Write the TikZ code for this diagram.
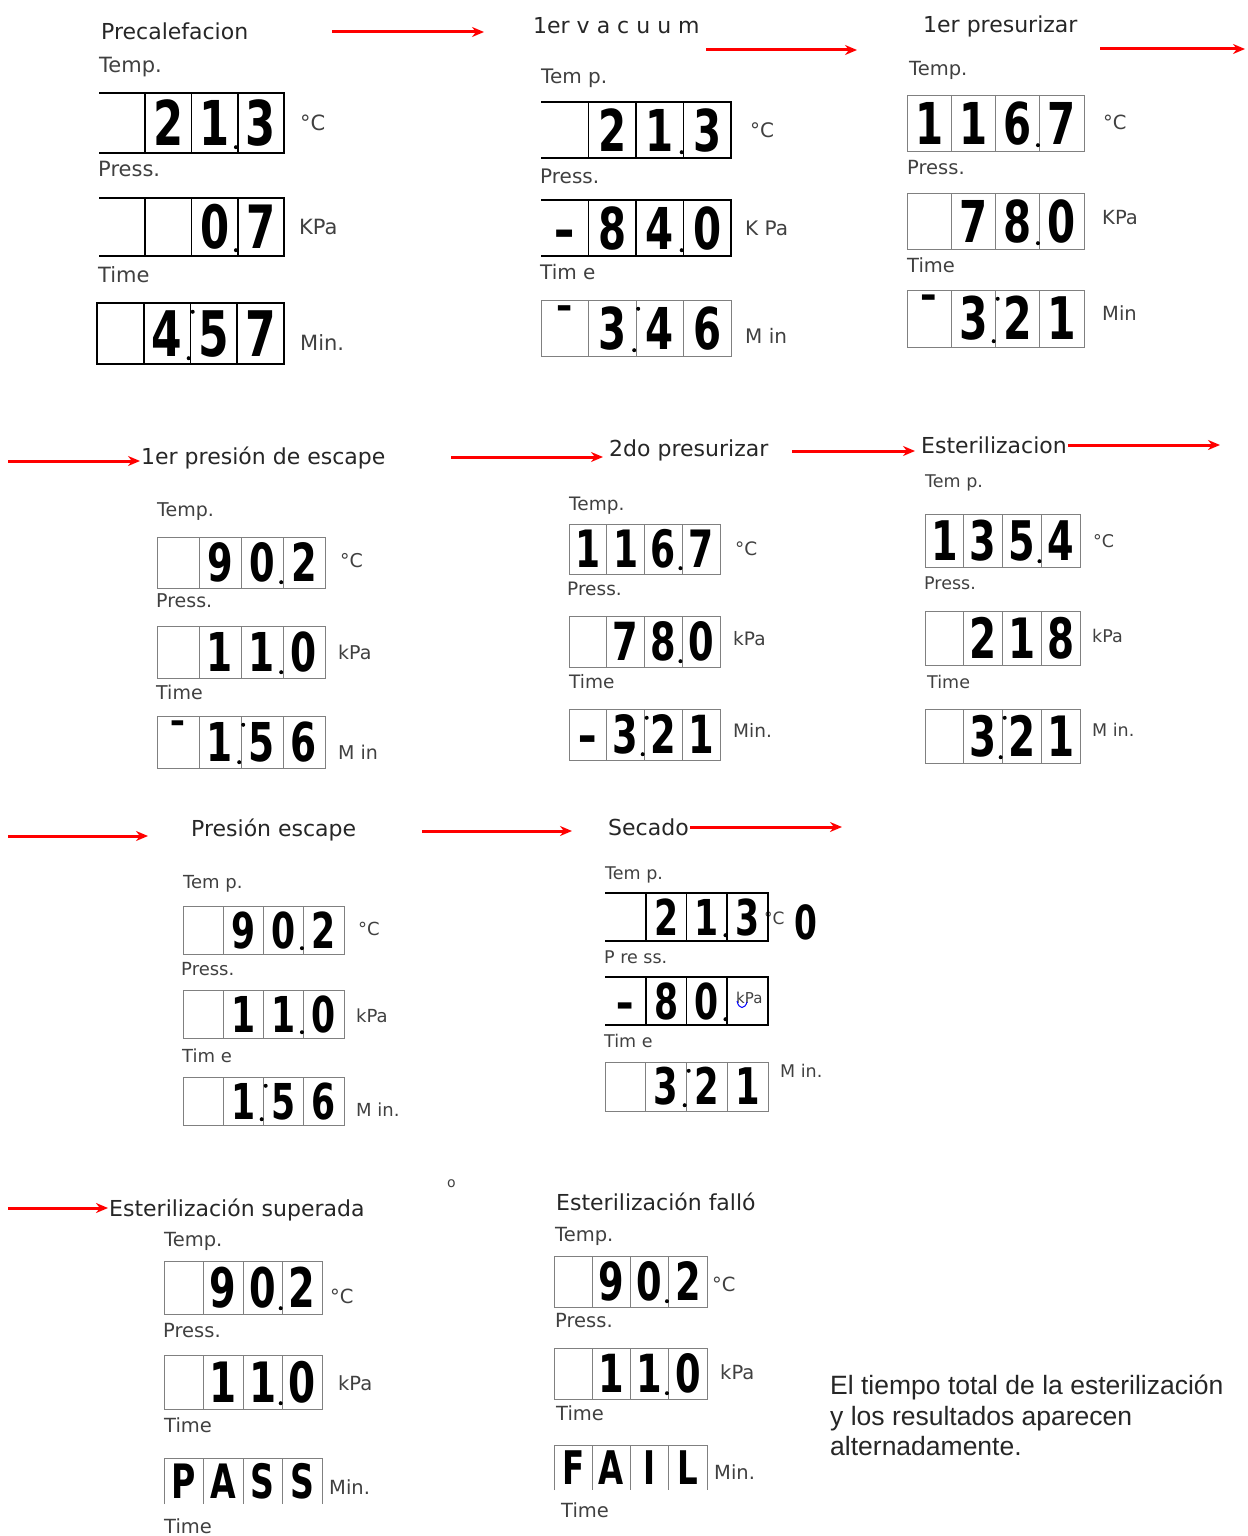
\documentclass[tikz,border=0pt]{standalone}
\usepackage{fontspec}
\setmainfont{DejaVu Sans}
\newfontfamily\notafont{Liberation Sans}
\newfontfamily\segfont[FakeStretch=0.7]{DejaVu Sans}
\usetikzlibrary{calc,arrows.meta}

% pantalla de 4 celdas: nombre, x, y, ancho, alto, linea, marco (0 todo, 1 sin izq., 2 sin abajo), cifras
\newcommand{\lcd}[8]{%
  \pgfmathsetmacro{\cw}{#4/4}%
  \pgfmathsetmacro{\dsz}{1.03*#5}%
  \pgfmathsetmacro{\dalt}{0.729*\dsz}%
  \ifcase#7
    \draw[#6] (#2,#3) rectangle ++(#4,#5);
  \or
    \draw[#6] (#2,#3) -- ++(#4,0) -- ++(0,#5) -- ++(-#4,0);
  \or
    \draw[#6] (#2,#3+#5) -- ++(0,-#5) -- ++(#4,0) -- ++(0,#5);
  \fi
  \foreach \pos in {1,2,3} \draw[#6] ({#2+\pos*\cw},#3) -- ++(0,#5);
  \foreach \val [count=\idx from 0] in {#8}
    \node[digito,minimum width=\cw pt,minimum height=#5 pt,text height=\dalt pt,
      font=\segfont\bfseries\fontsize{\dsz}{\dsz}\selectfont] (#1-\idx) at ({#2+(\idx+0.5)*\cw},{#3+#5/2}) {\val};
}
\newcommand{\punto}[1]{\fill ($(#1.south east)+(-2,-6)$) circle (2pt);}
\newcommand{\dospuntos}[1]{\punto{#1}\fill ($(#1.north east)+(2,9)$) circle (2pt);}

\begin{document}
\begin{tikzpicture}[x=1pt,y=-1pt,>={Stealth[length=12pt,width=10pt]}]
  \tikzset{titulo/.style={anchor=west,inner sep=1pt,text=black!85,font=\fontsize{22}{26}\selectfont},
    etq/.style={anchor=west,inner sep=0pt,text=black!75,font=\fontsize{#1}{#1}\selectfont},
    etq/.default=19,
    grueso/.style={line width=1.6pt,black},
    fino/.style={line width=0.9pt,black!50},
    flecha/.style={->,red,line width=3pt},
    digito/.style={inner sep=0pt,text depth=0pt}}
  \useasboundingbox (0,0) rectangle (1247,1536);

  % Precalefacion
  \path (100,31) node[titulo] (t1) {Precalefacion}
    (99,67) node[etq=21] (p1temp) {Temp.}
    (300,123) node[etq=21] (p1uc) {°C}
    (98,169) node[etq=21] (p1press) {Press.}
    (299,227) node[etq=21] (p1up) {KPa}
    (98,275) node[etq=21] (p1time) {Time}
    (300,343) node[etq=21] (p1ut) {Min.};
  \lcd{p1a}{99}{93}{185}{60}{grueso}{1}{{},2,1,3}
  \lcd{p1b}{99}{198}{185}{58}{grueso}{1}{{},{},0,7}
  \lcd{p1c}{97}{303}{187}{61}{grueso}{0}{{},4,5,7}
  \punto{p1a-2} \punto{p1b-2} \dospuntos{p1c-1}

  % 1er vacuum
  \path (532,26) node[titulo] (t2) {1er v a c u u m}
    (541,78) node[etq=20] (p2temp) {Tem p.}
    (750,130) node[etq=20] (p2uc) {°C}
    (540,176) node[etq=20] (p2press) {Press.}
    (745,228) node[etq=20] (p2up) {K Pa}
    (540,272) node[etq=20] (p2time) {Tim e}
    (745,336) node[etq=20] (p2ut) {M in};
  \lcd{p2a}{541}{102}{190}{56}{grueso}{1}{{},2,1,3}
  \lcd{p2b}{541}{200}{190}{56}{grueso}{1}{–,8,4,0}
  \lcd{p2c}{541}{300}{190}{56}{fino}{0}{¯,3,4,6}
  \punto{p2a-2} \punto{p2b-2} \dospuntos{p2c-1}

  % 1er presurizar
  \path (922,26) node[titulo] (t3) {1er presurizar}
    (909,70) node[etq=19.5] (p3temp) {Temp.}
    (1103,122) node[etq=19.5] (p3uc) {°C}
    (907,168) node[etq=19.5] (p3press) {Press.}
    (1102,218) node[etq=19.5] (p3up) {KPa}
    (907,265) node[etq=19.5] (p3time) {Time}
    (1102,313) node[etq=19.5] (p3ut) {Min};
  \lcd{p3a}{907}{95}{177}{56}{fino}{0}{1,1,6,7}
  \lcd{p3b}{907}{193}{177}{56}{fino}{0}{{},7,8,0}
  \lcd{p3c}{907}{290}{177}{57}{fino}{0}{¯,3,2,1}
  \punto{p3a-2} \punto{p3b-2} \dospuntos{p3c-1}

  % 1er presion de escape
  \path (140,458) node[titulo] (t4) {1er presión de escape}
    (157,512) node[etq] (p4temp) {Temp.}
    (340,561) node[etq] (p4uc) {°C}
    (156,601) node[etq] (p4press) {Press.}
    (338,652) node[etq] (p4up) {kPa}
    (156,692) node[etq] (p4time) {Time}
    (338,752) node[etq] (p4ut) {M in};
  \lcd{p4a}{157}{537}{168}{51}{fino}{0}{{},9,0,2}
  \lcd{p4b}{157}{626}{168}{52}{fino}{0}{{},1,1,0}
  \lcd{p4c}{157}{716}{168}{52}{fino}{0}{¯,1,5,6}
  \punto{p4a-2} \punto{p4b-2} \dospuntos{p4c-1}

  % 2do presurizar
  \path (608,450) node[titulo] (t5) {2do presurizar}
    (569,506) node[etq=18.5] (p5temp) {Temp.}
    (735,549) node[etq=18.5] (p5uc) {°C}
    (567,589) node[etq=18.5] (p5press) {Press.}
    (733,639) node[etq=18.5] (p5up) {kPa}
    (569,682) node[etq=18.5] (p5time) {Time}
    (733,730) node[etq=18.5] (p5ut) {Min.};
  \lcd{p5a}{569}{524}{151}{50}{fino}{0}{1,1,6,7}
  \lcd{p5b}{569}{616}{151}{51}{fino}{0}{{},7,8,0}
  \lcd{p5c}{569}{709}{151}{51}{fino}{0}{–,3,2,1}
  \punto{p5a-2} \punto{p5b-2} \dospuntos{p5c-1}

  % Esterilizacion
  \path (920,445) node[titulo] (t6) {Esterilizacion}
    (925,483) node[etq=17.5] (p6temp) {Tem p.}
    (1093,541) node[etq=17.5] (p6uc) {°C}
    (924,583) node[etq=17.5] (p6press) {Press.}
    (1092,636) node[etq=17.5] (p6up) {kPa}
    (927,682) node[etq=17.5] (p6time) {Time}
    (1092,730) node[etq=17.5] (p6ut) {M in.};
  \lcd{p6a}{925}{514}{155}{53}{fino}{0}{1,3,5,4}
  \lcd{p6b}{925}{611}{155}{54}{fino}{0}{{},2,1,8}
  \lcd{p6c}{925}{709}{155}{54}{fino}{0}{{},3,2,1}
  \punto{p6a-2} \dospuntos{p6c-1}

  % Presion escape
  \path (190,830) node[titulo] (t7) {Presión escape}
    (183,884) node[etq=18] (p7temp) {Tem p.}
    (358,929) node[etq=18] (p7uc) {°C}
    (181,969) node[etq=18] (p7press) {Press.}
    (356,1016) node[etq=18] (p7up) {kPa}
    (182,1056) node[etq=18] (p7time) {Tim e}
    (356,1110) node[etq=18] (p7ut) {M in.};
  \lcd{p7a}{183}{906}{161}{48}{fino}{0}{{},9,0,2}
  \lcd{p7b}{183}{990}{161}{48}{fino}{0}{{},1,1,0}
  \lcd{p7c}{183}{1077}{161}{48}{fino}{0}{{},1,5,6}
  \punto{p7a-2} \punto{p7b-2} \dospuntos{p7c-1}

  % Secado
  \path (607,827) node[titulo] (t8) {Secado}
    (605,875) node[etq=17.5] (p8temp) {Tem p.}
    (764,918) node[etq=17] (p8uc) {°C}
    (604,957) node[etq=17.5] (p8press) {P re ss.}
    (736,998) node[etq=15] (p8up) {kPa}
    (604,1041) node[etq=17.5] (p8time) {Tim e}
    (780,1071) node[etq=17.5] (p8ut) {M in.};
  \lcd{p8a}{605}{893}{163}{48}{grueso}{1}{{},2,1,3}
  \lcd{p8b}{605}{977}{163}{48}{grueso}{1}{–,8,0,{}}
  \lcd{p8c}{605}{1062}{163}{49}{fino}{0}{{},3,2,1}
  \punto{p8a-2} \punto{p8b-2} \dospuntos{p8c-1}
  \node[digito,text height=34pt,font=\segfont\bfseries\fontsize{47}{47}\selectfont] (p8cero) at (806,922) {0};
  \draw[blue,line width=1pt] (737,1001) .. controls (739,1010) and (745,1009) .. (747,1002);

  % Esterilizacion superada
  \path (108,1210) node[titulo] (t9) {Esterilización superada}
    (447,1184) node[etq=14] (marca) {o}
    (164,1241) node[etq=19.5] (p9temp) {Temp.}
    (330,1296) node[etq=19.5] (p9uc) {°C}
    (163,1331) node[etq=19.5] (p9press) {Press.}
    (338,1383) node[etq=19.5] (p9up) {kPa}
    (164,1425) node[etq=19.5] (p9time) {Time}
    (329,1487) node[etq=19.5] (p9ut) {Min.}
    (164,1526) node[etq=19.5] (p9time2) {Time};
  \lcd{p9a}{164}{1261}{158}{53}{fino}{0}{{},9,0,2}
  \lcd{p9b}{164}{1355}{158}{54}{fino}{0}{{},1,1,0}
  \lcd{p9c}{164}{1458}{158}{46}{fino}{2}{P,A,S,S}
  \punto{p9a-2} \punto{p9b-2}

  % Esterilizacion fallo
  \path (555,1202) node[titulo] (t10) {Esterilización falló}
    (555,1236) node[etq=19.5] (q0temp) {Temp.}
    (712,1284) node[etq=19.5] (q0uc) {°C}
    (555,1321) node[etq=19.5] (q0press) {Press.}
    (720,1372) node[etq=19.5] (q0up) {kPa}
    (556,1413) node[etq=19.5] (q0time) {Time}
    (714,1472) node[etq=19.5] (q0ut) {Min.}
    (561,1510) node[etq=19.5] (q0time2) {Time};
  \lcd{q0a}{554}{1256}{153}{51}{fino}{0}{{},9,0,2}
  \lcd{q0b}{554}{1348}{153}{51}{fino}{0}{{},1,1,0}
  \lcd{q0c}{554}{1445}{153}{45}{fino}{2}{F,A,I,L}
  \punto{q0a-2} \punto{q0b-2}

  % Nota
  \node[anchor=north west,inner sep=0pt,align=left,text=black!85,
    font=\notafont\fontsize{26.5}{30.5}\selectfont] (nota) at (830,1375)
    {El tiempo total de la esterilización\\y los resultados aparecen\\alternadamente.};

  % Flechas
  \coordinate (a1i) at (332,32); \coordinate (a1f) at (484,32);
  \coordinate (a2i) at (706,50); \coordinate (a2f) at (857,50);
  \coordinate (a3i) at (1100,49); \coordinate (a3f) at (1245,49);
  \coordinate (a4i) at (8,461);
  \coordinate (a5i) at (451,457);
  \coordinate (a6i) at (792,451);
  \coordinate (a7f) at (1220,447);
  \coordinate (a8i) at (8,836); \coordinate (a8f) at (148,836);
  \coordinate (a9i) at (422,831); \coordinate (a9f) at (572,831);
  \coordinate (a10f) at (842,829);
  \coordinate (a11i) at (8,1208);
  \draw[flecha] (a1i) -- (a1f);
  \draw[flecha] (a2i) -- (a2f);
  \draw[flecha] (a3i) -- (a3f);
  \draw[flecha] (a4i) -- (a4i -| t4.west);
  \draw[flecha] (a5i) -- ($(a5i -| t5.west)+(-5,0)$);
  \draw[flecha] (a6i) -- ($(a6i -| t6.west)+(-5,0)$);
  \draw[flecha] (t6.east) -- (t6.east -| a7f);
  \draw[flecha] (a8i) -- (a8f);
  \draw[flecha] (a9i) -- (a9f);
  \draw[flecha] (t8.east) -- (t8.east -| a10f);
  \draw[flecha] (a11i) -- (a11i -| t9.west);
\end{tikzpicture}
\end{document}
